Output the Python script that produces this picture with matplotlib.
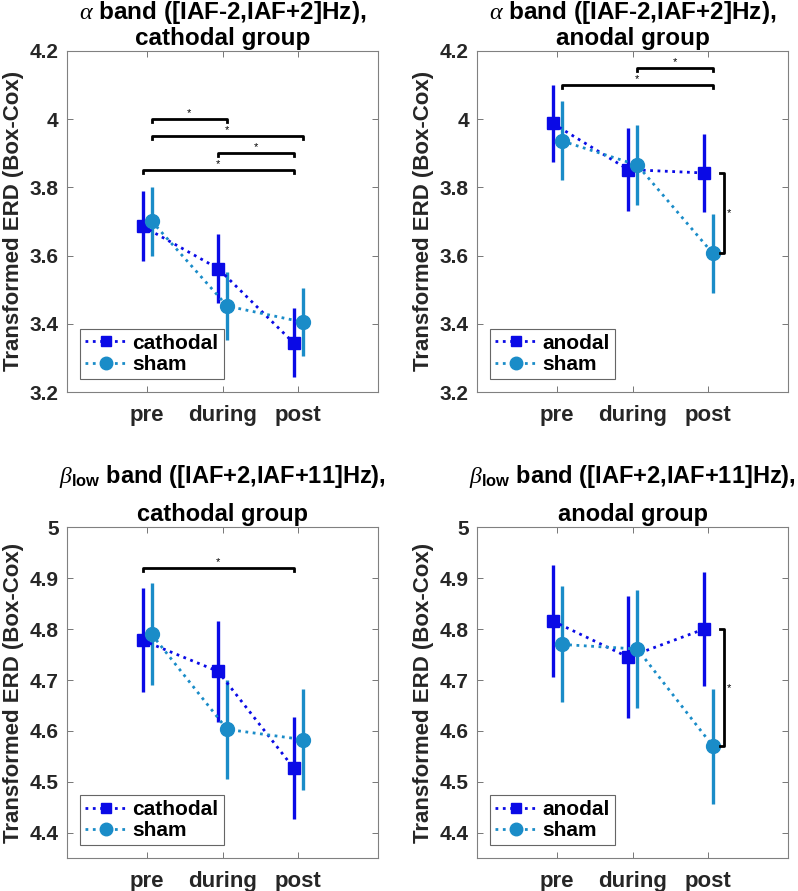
import matplotlib
matplotlib.use("Agg")
import matplotlib.pyplot as plt
import numpy as np

plt.rcParams['font.family'] = ['Liberation Sans', 'DejaVu Sans']
plt.rcParams['font.weight'] = 'normal'
plt.rcParams['mathtext.fontset'] = 'custom'
plt.rcParams['mathtext.it'] = 'Liberation Serif:italic'
plt.rcParams['mathtext.rm'] = 'Liberation Sans:bold'
plt.rcParams['mathtext.bf'] = 'Liberation Sans:bold'

phases = ['pre', 'during', 'post']

# top-left: alpha band, cathodal group
a_cat_mean = [3.686, 3.562, 3.344]
a_cat_err = [0.103, 0.100, 0.101]
a_cat_sham_mean = [3.701, 3.452, 3.405]
a_cat_sham_err = [0.101, 0.099, 0.100]

# top-right: alpha band, anodal group
a_ano_mean = [3.987, 3.852, 3.842]
a_ano_err = [0.112, 0.121, 0.113]
a_ano_sham_mean = [3.936, 3.865, 3.606]
a_ano_sham_err = [0.116, 0.117, 0.115]

# bottom-left: beta-low band, cathodal group
b_cat_mean = [4.778, 4.717, 4.527]
b_cat_err = [0.102, 0.100, 0.100]
b_cat_sham_mean = [4.790, 4.603, 4.583]
b_cat_sham_err = [0.100, 0.098, 0.099]

# bottom-right: beta-low band, anodal group
b_ano_mean = [4.816, 4.745, 4.800]
b_ano_err = [0.110, 0.120, 0.112]
b_ano_sham_mean = [4.770, 4.761, 4.570]
b_ano_sham_err = [0.114, 0.116, 0.113]

# significance brackets: (series_a, idx_a, series_b, idx_b, y)
sig_tl = [('s', 0, 's', 1, 4.00), ('s', 0, 's', 2, 3.95), ('c', 1, 'c', 2, 3.90), ('c', 0, 'c', 2, 3.85)]
sig_tr = [('s', 1, 's', 2, 4.15), ('s', 0, 's', 2, 4.10)]
sig_bl = [('c', 0, 'c', 2, 4.92)]
sig_br = []

alpha_ticks = [3.2, 3.4, 3.6, 3.8, 4.0, 4.2]
alpha_ticklabels = ['3.2', '3.4', '3.6', '3.8', '4', '4.2']
beta_ticks = [4.4, 4.5, 4.6, 4.7, 4.8, 4.9, 5.0]
beta_ticklabels = ['4.4', '4.5', '4.6', '4.7', '4.8', '4.9', '5']

col_stim = '#0a0ae6'
col_sham = '#1a8cc8'
off = 0.06

W, H = 798, 891
fig = plt.figure(figsize=(W / 100, H / 100), dpi=100)

panels = [
    dict(pos=[0.084, 0.560, 0.390, 0.383], stim=a_cat_mean, stim_e=a_cat_err, sham=a_cat_sham_mean,
         sham_e=a_cat_sham_err, label='cathodal', ylim=(3.2, 4.2), yt=alpha_ticks, ytl=alpha_ticklabels,
         t1='$\\alpha$ band ([IAF-2,IAF+2]Hz),', t2='cathodal group', b1=19, b2=45, fs=17.5,
         sig=sig_tl, vsig=None),
    dict(pos=[0.598, 0.560, 0.390, 0.383], stim=a_ano_mean, stim_e=a_ano_err, sham=a_ano_sham_mean,
         sham_e=a_ano_sham_err, label='anodal', ylim=(3.2, 4.2), yt=alpha_ticks, ytl=alpha_ticklabels,
         t1='$\\alpha$ band ([IAF-2,IAF+2]Hz),', t2='anodal group', b1=19, b2=45, fs=17.5,
         sig=sig_tr, vsig=2),
    dict(pos=[0.084, 0.037, 0.390, 0.371], stim=b_cat_mean, stim_e=b_cat_err, sham=b_cat_sham_mean,
         sham_e=b_cat_sham_err, label='cathodal', ylim=(4.35, 5.0), yt=beta_ticks, ytl=beta_ticklabels,
         t1='$\\beta_{\\mathrm{low}}$ band ([IAF+2,IAF+11]Hz),', t2='cathodal group', b1=483, b2=521,
         fs=17, sig=sig_bl, vsig=None),
    dict(pos=[0.598, 0.037, 0.390, 0.371], stim=b_ano_mean, stim_e=b_ano_err, sham=b_ano_sham_mean,
         sham_e=b_ano_sham_err, label='anodal', ylim=(4.35, 5.0), yt=beta_ticks, ytl=beta_ticklabels,
         t1='$\\beta_{\\mathrm{low}}$ band ([IAF+2,IAF+11]Hz),', t2='anodal group', b1=483, b2=521,
         fs=17, sig=sig_br, vsig=2),
]

for p in panels:
    ax = fig.add_axes(p['pos'])
    x = np.arange(1, 4)
    xs = x - off
    xh = x + off
    ax.errorbar(xs, p['stim'], yerr=p['stim_e'], fmt='none', ecolor=col_stim, elinewidth=2.4,
                capsize=0, zorder=3)
    ax.errorbar(xh, p['sham'], yerr=p['sham_e'], fmt='none', ecolor=col_sham, elinewidth=2.4,
                capsize=0, zorder=3)
    l1, = ax.plot(xs, p['stim'], ':', color=col_stim, lw=2, marker='s', ms=8, zorder=4)
    l2, = ax.plot(xh, p['sham'], ':', color=col_sham, lw=2, marker='o', ms=10, zorder=4)
    pos = {'c': xs, 's': xh}
    yr = p['ylim'][1] - p['ylim'][0]
    for (sa, ia, sb, ib, yy) in p['sig']:
        xa = pos[sa][ia]
        xb = pos[sb][ib]
        d = 0.008 * yr
        ax.plot([xa, xa, xb, xb], [yy - d, yy, yy, yy - d], color='black', lw=2, zorder=5)
        ax.text((xa + xb) / 2, yy + 0.002 * yr, '*', ha='center', va='bottom', fontsize=8,
                color='black')
    if p['vsig'] is not None:
        i = p['vsig']
        xv = 3.21
        y1 = p['stim'][i]
        y2 = p['sham'][i]
        ax.plot([xv - 0.05, xv, xv, xv - 0.05], [y1, y1, y2, y2], color='black', lw=2, zorder=5)
        ax.text(xv + 0.03, (y1 + y2) / 2, '*', ha='left', va='center', fontsize=8, color='black')
    ax.set_xlim(-0.06, 4.06)
    ax.set_ylim(*p['ylim'])
    ax.set_xticks(x)
    ax.set_xticklabels(phases)
    ax.set_yticks(p['yt'])
    ax.set_yticklabels(p['ytl'])
    ax.tick_params(direction='in', top=True, right=True, length=4, width=0.6, color='#606060',
                   labelcolor='#262626')
    ax.tick_params(axis='x', labelsize=16, pad=9)
    ax.tick_params(axis='y', labelsize=15, pad=6)
    for lab in ax.get_xticklabels() + ax.get_yticklabels():
        lab.set_fontweight('bold')
    for sp in ax.spines.values():
        sp.set_color('#808080')
        sp.set_linewidth(0.8)
    ax.set_ylabel('Transformed ERD (Box-Cox)', fontsize=16, fontweight='bold', color='#262626',
                  labelpad=4)
    cx = p['pos'][0] + p['pos'][2] / 2
    fig.text(cx, 1 - p['b1'] / H, p['t1'], ha='center', va='baseline', fontsize=p['fs'],
             fontweight='bold', color='black')
    fig.text(cx, 1 - p['b2'] / H, p['t2'], ha='center', va='baseline', fontsize=p['fs'],
             fontweight='bold', color='black')
    leg = ax.legend([l1, l2], [p['label'], 'sham'], loc='lower left', bbox_to_anchor=(0.042, 0.038),
                    fontsize=15, frameon=True, fancybox=False, handlelength=2.0, borderpad=0.25,
                    labelspacing=0.1, handletextpad=0.25, borderaxespad=0.0, markerscale=0.9)
    leg.get_frame().set_edgecolor('#404040')
    leg.get_frame().set_linewidth(0.8)
    for t in leg.get_texts():
        t.set_fontweight('bold')

fig.savefig('out.png', dpi=100)
